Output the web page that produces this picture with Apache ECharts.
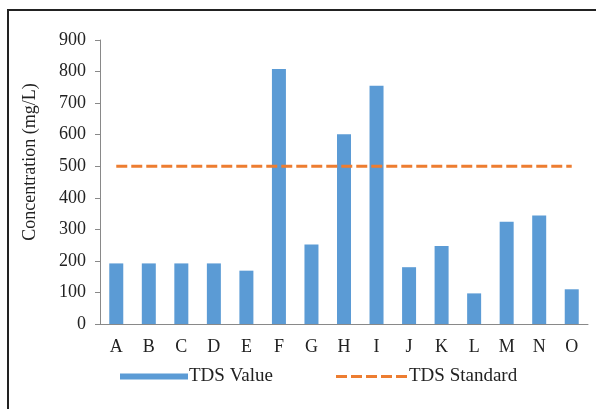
<!DOCTYPE html>
<html>
<head>
<meta charset="utf-8">
<script src="https://cdn.jsdelivr.net/npm/echarts@6/dist/echarts.min.js"></script>
<style>
    html, body {
        margin: 0;
        padding: 0;
        background: #fff;
    }
    .frame {
        position: absolute;
        left: 7px;
        top: 9px;
        width: 600px;
        height: 420px;
        border-left: 2px solid #222;
        border-top: 2px solid #222;
    }
    #chart {
        position: absolute;
        left: 0;
        top: 0;
        width: 596px;
        height: 409px;
    }
</style>
</head>
<body>
<div class="frame"></div>
<div id="chart"></div>
<script>
// sites along the x axis
const sites = ['A', 'B', 'C', 'D', 'E', 'F', 'G', 'H', 'I', 'J', 'K', 'L', 'M', 'N', 'O'];
// measured TDS per site (mg/L)
const tdsValues = [192, 192, 192, 192, 169, 808, 252, 601, 755, 180, 247, 97, 324, 344, 110];
// drinking water standard (mg/L)
const tdsStandard = [500, 500, 500, 500, 500, 500, 500, 500, 500, 500, 500, 500, 500, 500, 500];
const yTicks = [0, 100, 200, 300, 400, 500, 600, 700, 800, 900];

const font = '"Liberation Serif", "Times New Roman", serif';
const chart = echarts.init(document.getElementById('chart'), null, { renderer: 'canvas' });

// five dashes for the legend swatch of the standard line
const dashIcon = 'path://M0,0h11v3h-11z M15,0h11v3h-11z M30,0h11v3h-11z M45,0h11v3h-11z M60,0h11v3h-11z';

const option = {
    backgroundColor: 'transparent',
    animation: false,
    textStyle: { fontFamily: font },
    grid: {
        left: 100,
        right: 8,
        top: 40,
        bottom: 85
    },
    legend: [
        {
            data: [{ name: 'TDS Value', icon: 'rect' }],
            left: 115,
            top: 362,
            itemWidth: 68,
            itemHeight: 6,
            itemGap: 5,
            textStyle: { fontFamily: font, fontSize: 19, color: '#222', padding: [0, 0, 0, -4] }
        },
        {
            data: [{ name: 'TDS Standard', icon: dashIcon, itemStyle: { color: '#ED7D31' } }],
            left: 331,
            top: 362,
            itemWidth: 71,
            itemHeight: 3,
            textStyle: { fontFamily: font, fontSize: 19, color: '#222', padding: [0, 0, 0, -3] }
        }
    ],
    xAxis: {
        type: 'category',
        data: sites,
        axisLine: { lineStyle: { color: '#898989', width: 1 } },
        axisTick: { show: false },
        axisLabel: {
            color: '#222',
            fontSize: 18,
            fontFamily: font,
            margin: 14
        }
    },
    yAxis: {
        type: 'value',
        min: yTicks[0],
        max: yTicks[yTicks.length - 1],
        interval: 100,
        name: 'Concentration (mg/L)',
        nameLocation: 'middle',
        nameGap: 61,
        nameTextStyle: { fontFamily: font, fontSize: 18, color: '#222', padding: [0, 0, 0, 40] },
        axisLine: { show: true, lineStyle: { color: '#898989', width: 1 } },
        axisTick: { show: true, length: 5, lineStyle: { color: '#898989' } },
        splitLine: { show: false },
        axisLabel: {
            color: '#222',
            fontSize: 18,
            fontFamily: font,
            margin: 14
        }
    },
    series: [
        {
            name: 'TDS Value',
            type: 'bar',
            data: tdsValues,
            barWidth: 14,
            itemStyle: { color: '#5B9BD5' }
        },
        {
            name: 'TDS Standard',
            type: 'line',
            data: tdsStandard,
            symbol: 'none',
            z: 3,
            lineStyle: {
                color: '#ED7D31',
                width: 3,
                type: [11, 4]
            },
            itemStyle: { color: '#ED7D31' }
        }
    ]
};

chart.setOption(option);
</script>
</body>
</html>
